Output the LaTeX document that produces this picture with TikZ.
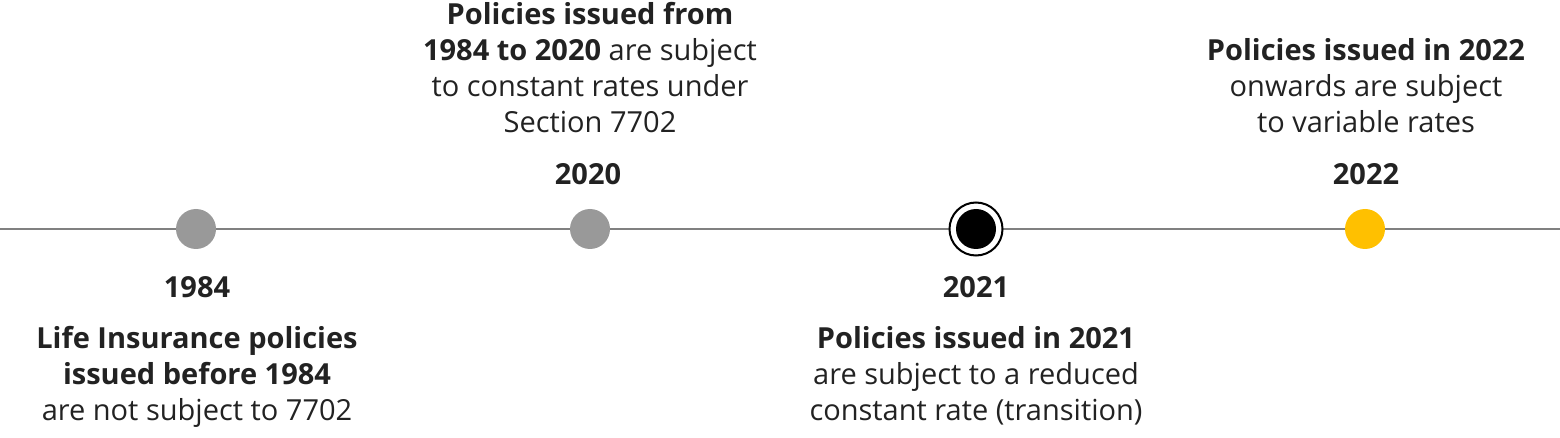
\documentclass[tikz,border=0pt]{standalone}
\usepackage{fontspec}
\setmainfont{Open Sans}
\definecolor{txt}{HTML}{222222}
\definecolor{dotgray}{HTML}{999999}
\definecolor{linegray}{HTML}{808080}
\definecolor{gold}{HTML}{FFC000}
\begin{document}
\begin{tikzpicture}[x=1pt,y=-1pt,
  lbl/.style={text=txt,inner sep=0pt,align=center,anchor=base,font=\fontsize{29}{36}\selectfont},
  yr/.style={text=txt,inner sep=0pt,anchor=base,font=\fontsize{29}{36}\selectfont\bfseries},
  dot/.style={circle,inner sep=0pt,minimum size=40pt}]
\useasboundingbox (0,0) rectangle (1560,438);
\coordinate (L) at (0,229);
\coordinate (R) at (1560,229);
\draw[linegray,line width=1.6pt] (L) -- (R);
\node[dot,fill=dotgray] (d1) at (196,229) {};
\node[dot,fill=dotgray] (d2) at (590,229) {};
\node[circle,inner sep=0pt,minimum size=53pt,fill=white,draw=black,line width=2pt] (d3o) at (976,229) {};
\node[dot,fill=black] (d3) at (976,229) {};
\node[dot,fill=gold] (d4) at (1365,229) {};
\node[yr] (y1) at (197,297.5) {1984};
\node[yr] (y2) at (588,185) {2020};
\node[yr] (y3) at (976,297.5) {2021};
\node[yr] (y4) at (1366,185) {2022};
\node[lbl] (t1) at (197,420.5) {\textbf{Life Insurance policies}\\\textbf{issued before 1984}\\are not subject to 7702};
\node[lbl] (t2) at (590,132.5) {\textbf{Policies issued from}\\\textbf{1984 to 2020} are subject\\to constant rates under\\Section 7702};
\node[lbl] (t3) at (976,420.5) {\textbf{Policies issued in 2021}\\are subject to a reduced\\constant rate (transition)};
\node[lbl] (t4) at (1366,132.5) {\textbf{Policies issued in 2022}\\onwards are subject\\to variable rates};
\end{tikzpicture}
\end{document}
